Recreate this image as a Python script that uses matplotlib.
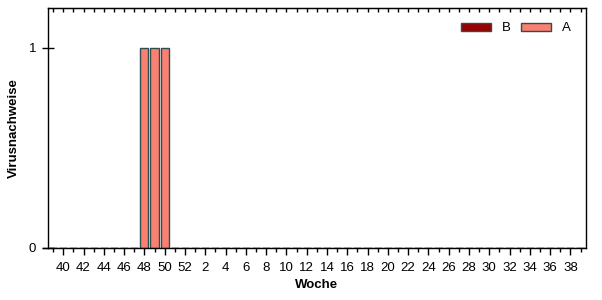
import matplotlib
matplotlib.use("Agg")
import matplotlib.pyplot as plt
from matplotlib.patches import Patch

plt.rcParams['font.family'] = ['Liberation Sans', 'DejaVu Sans']

weeks = list(range(39, 53)) + list(range(1, 40))
series_a = [0] * len(weeks)
for w in (48, 49, 50):
    series_a[weeks.index(w)] = 1
series_b = [0] * len(weeks)
y_ticks = [0, 1]

color_a = "#FA8072"
color_b = "#990000"
edge = "#2F4F4F"
fs = 9.5

fig = plt.figure(figsize=(6.02, 3.00), dpi=100)
ax = fig.add_axes([48/602, 52/300, (585.6-48)/602, (248-8)/300])

x = list(range(len(weeks)))
ax.bar(x, series_b, width=0.8, color=color_b, edgecolor=edge, linewidth=1)
ax.bar(x, series_a, bottom=series_b, width=0.8, color=color_a, edgecolor=edge, linewidth=1)

ax.set_xlim(-0.5, len(weeks) - 0.5)
ax.set_ylim(0, 1.2)

major = [i for i, w in enumerate(weeks) if w % 2 == 0]
minor = [i for i, w in enumerate(weeks) if w % 2 == 1]
ax.set_xticks(major)
ax.set_xticklabels([weeks[i] for i in major], fontsize=fs)
ax.set_xticks(minor, minor=True)
ax.tick_params(axis='x', which='major', direction='out', length=5, width=1, pad=5)
ax.tick_params(axis='x', which='minor', direction='out', length=3, width=1)
ax.set_yticks(y_ticks)
ax.set_yticklabels([str(v) for v in y_ticks], fontsize=fs)
ax.tick_params(axis='y', direction='inout', length=9, width=1, pad=4)

top = ax.secondary_xaxis('top')
top.set_xticks(x)
top.tick_params(direction='in', length=3, width=1, labeltop=False)
top.set_xticklabels([])

for s in ax.spines.values():
    s.set_linewidth(1)
    s.set_color('black')
ax.spines['bottom'].set_bounds(-1.0, len(weeks) - 0.5)

ax.set_xlabel("Woche", fontsize=fs, fontweight='bold', labelpad=4)
ax.set_ylabel("Virusnachweise", fontsize=fs, fontweight='bold')
ax.yaxis.set_label_coords(-0.052, 0.5)

handles = [Patch(facecolor=color_b, edgecolor=edge, label='B'),
           Patch(facecolor=color_a, edgecolor=edge, label='A')]
ax.legend(handles=handles, loc='center right', ncol=2, frameon=False,
          fontsize=fs, handlelength=2.3, handleheight=0.6, columnspacing=0.75,
          handletextpad=0.8, bbox_to_anchor=(0.994, 0.915))

fig.savefig("out.png", dpi=100)
